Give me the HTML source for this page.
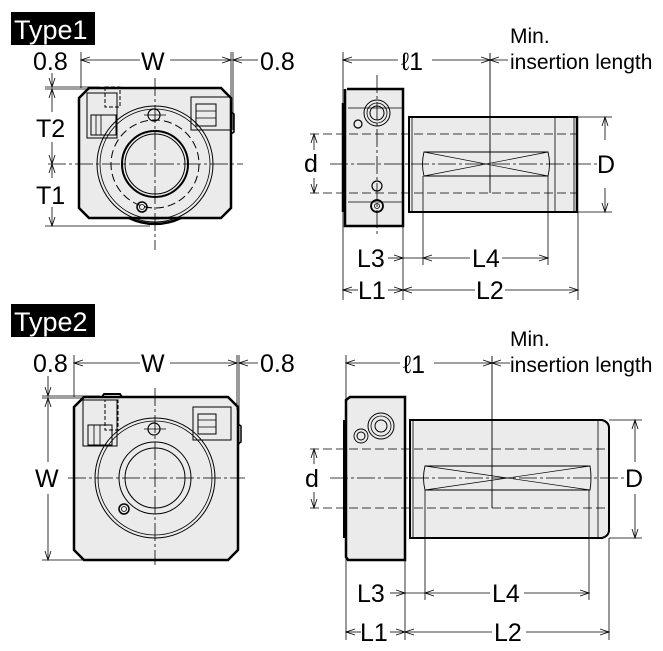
<!DOCTYPE html>
<html><head><meta charset="utf-8"><style>
html,body{margin:0;padding:0;background:#fff;}
svg{display:block;}
text{font-family:"Liberation Sans",Arial,sans-serif;fill:#000;}
</style></head><body>
<svg width="663" height="651" viewBox="0 0 663 651" xmlns="http://www.w3.org/2000/svg">
<defs>
<marker id="a" markerWidth="10" markerHeight="8" refX="9" refY="4" orient="auto-start-reverse" markerUnits="userSpaceOnUse">
<path d="M0,1 L9,4 L0,7" fill="none" stroke="#000" stroke-width="0.8"/>
</marker>
</defs>

<!-- ============ TYPE 1 ============ -->
<rect x="11" y="12" width="84" height="33" fill="#000"/>
<text x="14" y="39" font-size="27" style="fill:#fff">Type1</text>

<g stroke="#000" fill="none">
<path d="M129,218 A60,60 0 0 0 181,218" fill="#ebebeb" stroke-width="2.5"/>
<path d="M89,88 L221,88 L231,98 L231,208 L221,218 L89,218 L79,208 L79,98 Z" fill="#ebebeb" stroke-width="2.5"/>
<circle cx="155" cy="164" r="58" stroke-width="1"/>
<circle cx="155" cy="164" r="55" stroke-width="0.8"/>
<circle cx="155" cy="164" r="44" stroke-width="1" stroke-dasharray="8,4"/>
<circle cx="155" cy="164" r="33" stroke-width="2"/>
<circle cx="155" cy="164" r="30" stroke-width="1"/>
<circle cx="154" cy="115" r="6" stroke-width="1.2"/>
<circle cx="142" cy="207" r="5" stroke-width="1.5"/>
<circle cx="142" cy="207" r="2.5" stroke-width="0.8"/>
<rect x="87" y="93" width="30" height="45" stroke-width="1"/>
<rect x="105" y="87" width="15" height="20" stroke-width="1" stroke-dasharray="4,2"/>
<rect x="91" y="115" width="25" height="20" stroke-width="1"/>
<line x1="96" y1="115" x2="96" y2="135" stroke-width="0.8"/>
<line x1="101" y1="115" x2="101" y2="135" stroke-width="0.8"/>
<rect x="191" y="97" width="40" height="33" stroke-width="1"/>
<rect x="196" y="104" width="20" height="22" stroke-width="1"/>
<line x1="196" y1="111" x2="216" y2="111" stroke-width="0.8"/>
<line x1="196" y1="118" x2="216" y2="118" stroke-width="0.8"/>
<path d="M231,112 L234,114 L234,132 L231,134" stroke-width="1.5"/>
<line x1="155" y1="78" x2="155" y2="250" stroke-width="0.8" stroke-dasharray="18,3,3,3"/>
<line x1="48" y1="164" x2="243" y2="164" stroke-width="0.8" stroke-dasharray="18,3,3,3"/>
<line x1="144" y1="115" x2="166" y2="115" stroke-width="0.8"/>
<line x1="81" y1="52" x2="81" y2="88" stroke-width="0.8"/>
<line x1="231" y1="52" x2="231" y2="100" stroke-width="0.8"/>
<line x1="233" y1="52" x2="233" y2="130" stroke-width="0.8"/>
<line x1="81" y1="60" x2="140" y2="60" stroke-width="0.8" marker-start="url(#a)"/>
<line x1="170" y1="60" x2="231" y2="60" stroke-width="0.8" marker-end="url(#a)"/>
<line x1="258" y1="60" x2="233" y2="60" stroke-width="0.8" marker-end="url(#a)"/>
<line x1="45" y1="87" x2="100" y2="87" stroke-width="0.8"/>
<line x1="45" y1="89" x2="90" y2="89" stroke-width="0.8"/>
<line x1="45" y1="226" x2="150" y2="226" stroke-width="0.8"/>
<line x1="52" y1="73" x2="52" y2="87" stroke-width="0.8" marker-end="url(#a)"/>
<line x1="52" y1="89" x2="52" y2="112" stroke-width="0.8" marker-start="url(#a)"/>
<line x1="52" y1="142" x2="52" y2="164" stroke-width="0.8" marker-end="url(#a)"/>
<line x1="52" y1="164" x2="52" y2="178" stroke-width="0.8" marker-start="url(#a)"/>
<line x1="52" y1="207" x2="52" y2="226" stroke-width="0.8" marker-end="url(#a)"/>
</g>
<text x="33" y="70" font-size="25">0.8</text>
<text x="141" y="70" font-size="25">W</text>
<text x="260" y="70" font-size="25">0.8</text>
<text x="36" y="137" font-size="25">T2</text>
<text x="36" y="204" font-size="25">T1</text>

<g stroke="#000" fill="none">
<rect x="409" y="117" width="168" height="95" fill="#ebebeb" stroke-width="2"/>
<line x1="555" y1="118" x2="555" y2="211" stroke-width="0.8"/>
<line x1="574" y1="117" x2="574" y2="212" stroke-width="0.8"/>
<line x1="577" y1="117" x2="577" y2="212" stroke-width="2.5"/>
<line x1="412" y1="117" x2="412" y2="212" stroke-width="0.8"/>
<path d="M347,89 L403,89 L403,226 L345,226 L345,89" fill="#ebebeb" stroke-width="2.5"/>
<line x1="343" y1="103" x2="343" y2="212" stroke-width="2.5"/>
<line x1="348" y1="108" x2="403" y2="108" stroke-width="0.8"/>
<line x1="348" y1="202" x2="403" y2="202" stroke-width="0.8"/>
<circle cx="377" cy="113" r="13" stroke-width="1"/>
<circle cx="377" cy="113" r="10" stroke-width="0.8"/>
<circle cx="377" cy="113" r="7" stroke-width="1"/>
<circle cx="358" cy="124" r="4" stroke-width="1.2"/>
<circle cx="377" cy="186" r="5" stroke-width="1.2"/>
<circle cx="377" cy="206" r="6" stroke-width="1.8"/>
<circle cx="377" cy="206" r="2.5" stroke-width="0.8"/>
<path d="M424,152 L548,152 Q551,164 548,176 L424,176 Q421,164 424,152 Z" stroke-width="0.9"/>
<line x1="424" y1="152" x2="548" y2="176" stroke-width="0.7"/>
<line x1="424" y1="176" x2="548" y2="152" stroke-width="0.7"/>
<line x1="310" y1="134" x2="578" y2="134" stroke-width="0.8" stroke-dasharray="9,4"/>
<line x1="310" y1="193" x2="578" y2="193" stroke-width="0.8" stroke-dasharray="9,4"/>
<line x1="330" y1="164" x2="600" y2="164" stroke-width="0.8" stroke-dasharray="18,3,3,3"/>
<line x1="377" y1="75" x2="377" y2="235" stroke-width="0.8" stroke-dasharray="18,3,3,3"/>
<line x1="490" y1="53" x2="490" y2="193" stroke-width="0.9"/>
<line x1="343" y1="52" x2="343" y2="300" stroke-width="0.8"/>
<line x1="403" y1="226" x2="403" y2="300" stroke-width="0.8"/>
<line x1="578" y1="212" x2="578" y2="300" stroke-width="0.8"/>
<line x1="423" y1="176" x2="423" y2="265" stroke-width="0.8"/>
<line x1="548" y1="176" x2="548" y2="265" stroke-width="0.8"/>
<line x1="577" y1="117" x2="612" y2="117" stroke-width="0.8"/>
<line x1="577" y1="212" x2="612" y2="212" stroke-width="0.8"/>
<line x1="605" y1="140" x2="605" y2="117" stroke-width="0.8" marker-end="url(#a)"/>
<line x1="605" y1="188" x2="605" y2="212" stroke-width="0.8" marker-end="url(#a)"/>
<line x1="314" y1="150" x2="314" y2="134" stroke-width="0.8" marker-end="url(#a)"/>
<line x1="314" y1="178" x2="314" y2="193" stroke-width="0.8" marker-end="url(#a)"/>
<line x1="343" y1="60" x2="398" y2="60" stroke-width="0.8" marker-start="url(#a)"/>
<line x1="432" y1="60" x2="490" y2="60" stroke-width="0.8" marker-end="url(#a)"/>
<line x1="508" y1="60" x2="490" y2="60" stroke-width="0.8" marker-end="url(#a)"/>
<line x1="388" y1="258" x2="403" y2="258" stroke-width="0.8" marker-end="url(#a)"/>
<line x1="403" y1="258" x2="423" y2="258" stroke-width="0.8"/>
<line x1="423" y1="258" x2="470" y2="258" stroke-width="0.8" marker-start="url(#a)"/>
<line x1="502" y1="258" x2="548" y2="258" stroke-width="0.8" marker-end="url(#a)"/>
<line x1="343" y1="290" x2="358" y2="290" stroke-width="0.8" marker-start="url(#a)"/>
<line x1="388" y1="290" x2="403" y2="290" stroke-width="0.8" marker-end="url(#a)"/>
<line x1="403" y1="290" x2="475" y2="290" stroke-width="0.8" marker-start="url(#a)"/>
<line x1="505" y1="290" x2="578" y2="290" stroke-width="0.8" marker-end="url(#a)"/>
</g>
<text x="401" y="70" font-size="25">ℓ1</text>
<text x="510" y="43" font-size="21">Min.</text>
<text x="510" y="69" font-size="21">insertion length</text>
<text x="304" y="172" font-size="25">d</text>
<text x="597" y="173" font-size="25">D</text>
<text x="357" y="267" font-size="25">L3</text>
<text x="472" y="267" font-size="25">L4</text>
<text x="358" y="299" font-size="25">L1</text>
<text x="476" y="299" font-size="25">L2</text>

<!-- ============ TYPE 2 ============ -->
<rect x="11" y="304" width="84" height="33" fill="#000"/>
<text x="14" y="331" font-size="27" style="fill:#fff">Type2</text>

<g stroke="#000" fill="none">
<path d="M84,397 L228,397 L238,407 L238,550 L228,560 L84,560 L74,550 L74,407 Z" fill="#ebebeb" stroke-width="2.5"/>
<path d="M102,397 L104,394 L120,394 L122,397" stroke-width="2"/>
<circle cx="155" cy="478" r="60" stroke-width="1"/>
<circle cx="155" cy="478" r="57" stroke-width="0.8"/>
<circle cx="155" cy="478" r="36" stroke-width="1"/>
<circle cx="155" cy="478" r="30" stroke-width="1"/>
<circle cx="154" cy="429" r="6" stroke-width="1.2"/>
<circle cx="124" cy="509" r="5" stroke-width="1.5"/>
<circle cx="124" cy="509" r="2.5" stroke-width="0.8"/>
<rect x="83" y="400" width="34" height="46" stroke-width="1"/>
<rect x="105" y="400" width="13" height="30" stroke-width="1" stroke-dasharray="4,2"/>
<rect x="88" y="425" width="24" height="20" stroke-width="1"/>
<line x1="94" y1="425" x2="94" y2="445" stroke-width="0.8"/>
<line x1="100" y1="425" x2="100" y2="445" stroke-width="0.8"/>
<rect x="193" y="407" width="38" height="33" stroke-width="1"/>
<rect x="198" y="414" width="18" height="20" stroke-width="1"/>
<line x1="198" y1="420" x2="216" y2="420" stroke-width="0.8"/>
<line x1="198" y1="427" x2="216" y2="427" stroke-width="0.8"/>
<path d="M238,424 L241,426 L241,442 L238,444" stroke-width="1.5"/>
<line x1="155" y1="388" x2="155" y2="565" stroke-width="0.8" stroke-dasharray="18,3,3,3"/>
<line x1="68" y1="478" x2="245" y2="478" stroke-width="0.8" stroke-dasharray="18,3,3,3"/>
<line x1="144" y1="429" x2="166" y2="429" stroke-width="0.8"/>
<line x1="74" y1="355" x2="74" y2="397" stroke-width="0.8"/>
<line x1="237" y1="355" x2="237" y2="410" stroke-width="0.8"/>
<line x1="239" y1="355" x2="239" y2="445" stroke-width="0.8"/>
<line x1="74" y1="363" x2="140" y2="363" stroke-width="0.8" marker-start="url(#a)"/>
<line x1="170" y1="363" x2="237" y2="363" stroke-width="0.8" marker-end="url(#a)"/>
<line x1="258" y1="363" x2="239" y2="363" stroke-width="0.8" marker-end="url(#a)"/>
<line x1="42" y1="396" x2="100" y2="396" stroke-width="0.8"/>
<line x1="42" y1="398" x2="84" y2="398" stroke-width="0.8"/>
<line x1="42" y1="560" x2="84" y2="560" stroke-width="0.8"/>
<line x1="48" y1="376" x2="48" y2="396" stroke-width="0.8" marker-end="url(#a)"/>
<line x1="48" y1="398" x2="48" y2="462" stroke-width="0.8" marker-start="url(#a)"/>
<line x1="48" y1="494" x2="48" y2="560" stroke-width="0.8" marker-end="url(#a)"/>
</g>
<text x="33" y="372" font-size="25">0.8</text>
<text x="141" y="372" font-size="25">W</text>
<text x="260" y="372" font-size="25">0.8</text>
<text x="35" y="487" font-size="25">W</text>

<g stroke="#000" fill="none">
<path d="M410,420 L602,420 Q609,422 609,428 L609,530 Q609,536 602,538 L410,538 Z" fill="#ebebeb" stroke-width="2"/>
<line x1="598" y1="421" x2="598" y2="537" stroke-width="0.8"/>
<line x1="413" y1="420" x2="413" y2="538" stroke-width="0.8"/>
<path d="M350,397 L405,397 L405,560 L348,560 L346,557 L346,400 Z" fill="#ebebeb" stroke-width="2.5"/>
<line x1="344" y1="420" x2="344" y2="538" stroke-width="2"/>
<circle cx="381" cy="426" r="13" stroke-width="1"/>
<circle cx="381" cy="426" r="10" stroke-width="0.8"/>
<circle cx="381" cy="426" r="6" stroke-width="1"/>
<circle cx="361" cy="436" r="7" stroke-width="0.9"/>
<circle cx="361" cy="436" r="4" stroke-width="1"/>
<path d="M425,466 L590,466 Q592,478 590,490 L425,490 Q422,478 425,466 Z" stroke-width="0.9"/>
<line x1="425" y1="466" x2="590" y2="490" stroke-width="0.7"/>
<line x1="425" y1="490" x2="590" y2="466" stroke-width="0.7"/>
<line x1="310" y1="449" x2="610" y2="449" stroke-width="0.8" stroke-dasharray="9,4"/>
<line x1="310" y1="508" x2="610" y2="508" stroke-width="0.8" stroke-dasharray="9,4"/>
<line x1="330" y1="478" x2="625" y2="478" stroke-width="0.8" stroke-dasharray="18,3,3,3"/>
<line x1="492" y1="356" x2="492" y2="508" stroke-width="0.9"/>
<line x1="346" y1="355" x2="346" y2="640" stroke-width="0.8"/>
<line x1="405" y1="560" x2="405" y2="640" stroke-width="0.8"/>
<line x1="609" y1="538" x2="609" y2="640" stroke-width="0.8"/>
<line x1="425" y1="490" x2="425" y2="600" stroke-width="0.8"/>
<line x1="589" y1="490" x2="589" y2="600" stroke-width="0.8"/>
<line x1="609" y1="420" x2="642" y2="420" stroke-width="0.8"/>
<line x1="609" y1="538" x2="642" y2="538" stroke-width="0.8"/>
<line x1="635" y1="462" x2="635" y2="420" stroke-width="0.8" marker-end="url(#a)"/>
<line x1="635" y1="494" x2="635" y2="538" stroke-width="0.8" marker-end="url(#a)"/>
<line x1="314" y1="464" x2="314" y2="449" stroke-width="0.8" marker-end="url(#a)"/>
<line x1="314" y1="492" x2="314" y2="508" stroke-width="0.8" marker-end="url(#a)"/>
<line x1="346" y1="363" x2="400" y2="363" stroke-width="0.8" marker-start="url(#a)"/>
<line x1="434" y1="363" x2="492" y2="363" stroke-width="0.8" marker-end="url(#a)"/>
<line x1="510" y1="363" x2="492" y2="363" stroke-width="0.8" marker-end="url(#a)"/>
<line x1="390" y1="593" x2="405" y2="593" stroke-width="0.8" marker-end="url(#a)"/>
<line x1="405" y1="593" x2="425" y2="593" stroke-width="0.8"/>
<line x1="425" y1="593" x2="490" y2="593" stroke-width="0.8" marker-start="url(#a)"/>
<line x1="524" y1="593" x2="589" y2="593" stroke-width="0.8" marker-end="url(#a)"/>
<line x1="346" y1="632" x2="361" y2="632" stroke-width="0.8" marker-start="url(#a)"/>
<line x1="390" y1="632" x2="405" y2="632" stroke-width="0.8" marker-end="url(#a)"/>
<line x1="405" y1="632" x2="492" y2="632" stroke-width="0.8" marker-start="url(#a)"/>
<line x1="526" y1="632" x2="609" y2="632" stroke-width="0.8" marker-end="url(#a)"/>
</g>
<text x="403" y="373" font-size="25">ℓ1</text>
<text x="510" y="346" font-size="21">Min.</text>
<text x="510" y="372" font-size="21">insertion length</text>
<text x="305" y="487" font-size="25">d</text>
<text x="625" y="487" font-size="25">D</text>
<text x="357" y="602" font-size="25">L3</text>
<text x="492" y="602" font-size="25">L4</text>
<text x="360" y="641" font-size="25">L1</text>
<text x="494" y="641" font-size="25">L2</text>
</svg>
</body></html>
